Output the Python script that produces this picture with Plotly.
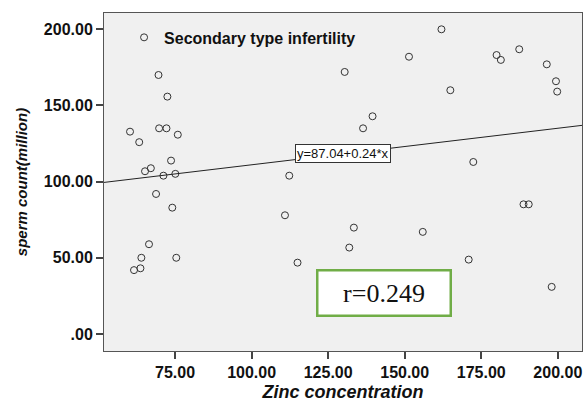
import plotly.graph_objects as go

# Data
zinc = [69.6, 72.5, 60.3, 69.8, 72.2, 75.9, 63.3, 73.7, 65.2, 67.1, 71.2, 75.1,
        112.3, 68.8, 74.1, 110.9, 66.5, 64.0, 75.4, 61.6, 63.7, 115.0,
        162.0, 151.4, 130.4, 180.0, 181.4, 187.4, 196.4, 199.4, 199.8, 164.9,
        139.5, 136.4, 172.4, 188.8, 190.5, 133.4, 131.9, 155.9, 170.9, 198.0]
sperm = [170.0, 155.8, 132.8, 135.0, 135.0, 130.8, 125.9, 113.8, 106.8, 108.8, 103.9, 105.1,
         103.9, 91.9, 82.9, 77.9, 58.9, 50.0, 50.0, 41.9, 43.1, 46.8,
         200.0, 182.0, 172.0, 183.1, 179.9, 186.9, 177.0, 165.9, 159.1, 160.0,
         142.9, 135.0, 112.9, 85.1, 85.1, 69.8, 56.7, 67.0, 48.8, 30.9]

intercept = 87.04
slope = 0.24
r_value = 0.249

x_range = [51.8, 207.9]
y_range = [-11.2, 210.7]

x_ticks = [75, 100, 125, 150, 175, 200]
x_ticktext = ["75.00", "100.00", "125.00", "150.00", "175.00", "200.00"]
y_ticks = [0, 50, 100, 150, 200]
y_ticktext = [".00", "50.00", "100.00", "150.00", "200.00"]

FONT = "Liberation Sans, Arial, sans-serif"

fig = go.Figure()

fig.add_trace(go.Scatter(
    x=zinc, y=sperm, mode="markers", name="Secondary type infertility",
    marker=dict(symbol="circle-open", size=7, color="#333333", line=dict(width=1)),
    showlegend=True,
))

line_x = [x_range[0], x_range[1]]
line_y = [intercept + slope * v for v in line_x]
fig.add_trace(go.Scatter(
    x=line_x, y=line_y, mode="lines", showlegend=False,
    line=dict(color="#222222", width=1),
))

# equation label on the line
lab_x = 129.8
fig.add_annotation(
    x=lab_x, y=intercept + slope * lab_x, xref="x", yref="y",
    text=f"y={intercept:.2f}+{slope:.2f}*x", showarrow=False,
    font=dict(family=FONT, size=13, color="#111111"),
    bgcolor="white", bordercolor="#333333", borderwidth=1, borderpad=1,
)

# r box
fig.add_annotation(
    x=143.2, y=26.6, xref="x", yref="y",
    text=f"r={r_value:.3f}", showarrow=False,
    font=dict(family="Liberation Serif, Times New Roman, serif", size=26, color="#111111"),
    bgcolor="white", bordercolor="#70AD47", borderwidth=2.5, borderpad=0,
    width=131, height=43, align="center", valign="middle",
)

axis_common = dict(
    showline=True, mirror=True, linecolor="#555555", linewidth=1,
    showgrid=False, zeroline=False, ticks="outside", ticklen=7,
    tickcolor="#444444", tickwidth=1.5,
    tickfont=dict(family=FONT, size=16, color="#111111", weight="bold"),
)

fig.update_xaxes(
    range=x_range, tickvals=x_ticks, ticktext=x_ticktext,
    title=dict(text="Zinc concentration", standoff=5,
               font=dict(family=FONT, size=18, color="#111111", weight="bold", style="italic")),
    **axis_common,
)
fig.update_yaxes(
    range=y_range, tickvals=y_ticks, ticktext=y_ticktext,
    title=dict(text="sperm count(million)", standoff=12,
               font=dict(family=FONT, size=15, color="#111111", weight="bold", style="italic")),
    **axis_common,
)

fig.update_layout(
    width=584, height=404,
    margin=dict(l=104, r=2, t=13, b=53),
    paper_bgcolor="white", plot_bgcolor="#F0F0F0",
    legend=dict(x=0.042, y=0.978, xanchor="left", yanchor="top",
                bgcolor="rgba(0,0,0,0)",
                font=dict(family=FONT, size=16, color="#111111", weight="bold")),
)

fig.write_html("out.html")
